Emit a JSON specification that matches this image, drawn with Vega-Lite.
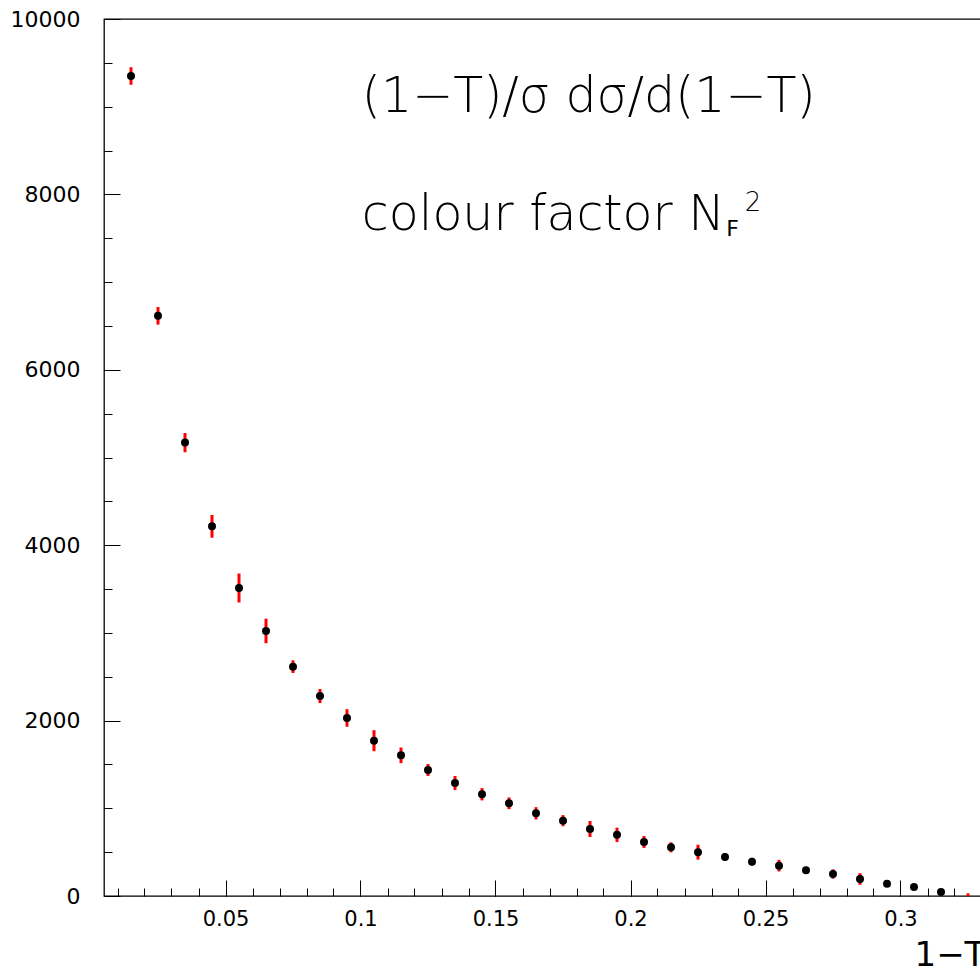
{
  "$schema": "https://vega.github.io/schema/vega-lite/v6.json",
  "width": 891,
  "height": 877,
  "autosize": {"type": "none"},
  "padding": {"left": 104, "top": 19, "right": 0, "bottom": 73},
  "background": "white",
  "config": {
    "view": {"stroke": "black", "strokeWidth": 1.3},
    "axis": {"grid": false, "domain": false, "tickColor": "black", "tickWidth": 1, "labelFont": "DejaVu Sans", "labelColor": "black", "labelFontSize": 21, "titleFont": "DejaVu Sans", "titleColor": "black", "titleFontWeight": "normal"},
    "text": {"font": "DejaVu Sans"}
  },
  "datasets": {
    "pts": [
      {"x": 0.015, "y": 9350, "err": 100},
      {"x": 0.025, "y": 6615, "err": 100},
      {"x": 0.035, "y": 5170, "err": 110},
      {"x": 0.045, "y": 4215, "err": 130},
      {"x": 0.055, "y": 3512, "err": 165},
      {"x": 0.065, "y": 3022, "err": 140},
      {"x": 0.075, "y": 2615, "err": 72},
      {"x": 0.085, "y": 2280, "err": 80},
      {"x": 0.095, "y": 2030, "err": 100},
      {"x": 0.105, "y": 1771, "err": 120},
      {"x": 0.115, "y": 1604, "err": 89},
      {"x": 0.125, "y": 1437, "err": 68},
      {"x": 0.135, "y": 1288, "err": 80},
      {"x": 0.145, "y": 1160, "err": 70},
      {"x": 0.155, "y": 1057, "err": 67},
      {"x": 0.165, "y": 943, "err": 70},
      {"x": 0.175, "y": 859, "err": 63},
      {"x": 0.185, "y": 764, "err": 91},
      {"x": 0.195, "y": 697, "err": 82},
      {"x": 0.205, "y": 616, "err": 68},
      {"x": 0.215, "y": 555, "err": 57},
      {"x": 0.225, "y": 500, "err": 85},
      {"x": 0.235, "y": 445, "err": 45},
      {"x": 0.245, "y": 391, "err": 45},
      {"x": 0.255, "y": 346, "err": 66},
      {"x": 0.265, "y": 293, "err": 35},
      {"x": 0.275, "y": 251, "err": 53},
      {"x": 0.285, "y": 194, "err": 66},
      {"x": 0.295, "y": 141, "err": 30},
      {"x": 0.305, "y": 103, "err": 25},
      {"x": 0.315, "y": 46, "err": 20},
      {"x": 0.325, "y": 0, "err": 30}
    ],
    "main": [
      {"x": 0.1005, "y": 8940, "text": "(1−T)/σ dσ/d(1−T)"},
      {"x": 0.1005, "y": 7594, "text": "colour factor N"}
    ],
    "sub": [{"x": 0.2355, "y": 7526, "text": "F"}],
    "sup": [{"x": 0.2423, "y": 7811, "text": "2"}]
  },
  "layer": [
    {
      "data": {"name": "pts"},
      "mark": {"type": "errorbar", "color": "#ff0000", "thickness": 3, "clip": true},
      "encoding": {
        "x": {"field": "x", "type": "quantitative", "scale": {"domain": [0.005, 0.335], "nice": false, "zero": false},
              "axis": {"orient": "bottom", "values": [0.01,0.02,0.03,0.04,0.05,0.06,0.07,0.08,0.09,0.1,0.11,0.12,0.13,0.14,0.15,0.16,0.17,0.18,0.19,0.2,0.21,0.22,0.23,0.24,0.25,0.26,0.27,0.28,0.29,0.3,0.31,0.32,0.33], "tickSize": -8, "labels": false, "title": null}},
        "y": {"field": "y", "type": "quantitative", "scale": {"domain": [0, 10000], "nice": false, "zero": false},
              "axis": {"orient": "left", "values": [500,1000,1500,2000,2500,3000,3500,4000,4500,5000,5500,6000,6500,7000,7500,8000,8500,9000,9500], "tickSize": -8, "labels": false, "title": null}},
        "yError": {"field": "err"}
      }
    },
    {
      "data": {"name": "pts"},
      "transform": [{"filter": "datum.y > 0"}],
      "mark": {"type": "circle", "color": "black", "size": 64, "opacity": 1},
      "encoding": {
        "x": {"field": "x", "type": "quantitative",
              "axis": {"orient": "bottom", "values": [0.05,0.1,0.15,0.2,0.25,0.3], "format": "~g", "tickSize": -16, "labelPadding": 28, "title": "1−T", "titleFontSize": 34, "titleAlign": "left", "titleBaseline": "alphabetic", "titleX": 810, "titleY": 69}},
        "y": {"field": "y", "type": "quantitative",
              "axis": {"orient": "left", "values": [0,2000,4000,6000,8000,10000], "format": "d", "tickSize": -16, "labelPadding": 40, "labelFontSize": 22, "title": null}}
      }
    },
    {
      "data": {"name": "main"},
      "mark": {"type": "text", "fontSize": 49, "fontWeight": 200, "align": "left", "baseline": "alphabetic", "color": "black"},
      "encoding": {
        "x": {"field": "x", "type": "quantitative", "axis": null},
        "y": {"field": "y", "type": "quantitative", "axis": null},
        "text": {"field": "text"}
      }
    },
    {
      "data": {"name": "sub"},
      "mark": {"type": "text", "fontSize": 22, "fontWeight": "normal", "align": "left", "baseline": "alphabetic", "color": "black"},
      "encoding": {
        "x": {"field": "x", "type": "quantitative", "axis": null},
        "y": {"field": "y", "type": "quantitative", "axis": null},
        "text": {"field": "text"}
      }
    },
    {
      "data": {"name": "sup"},
      "mark": {"type": "text", "fontSize": 26, "fontWeight": 200, "align": "left", "baseline": "alphabetic", "color": "black"},
      "encoding": {
        "x": {"field": "x", "type": "quantitative", "axis": null},
        "y": {"field": "y", "type": "quantitative", "axis": null},
        "text": {"field": "text"}
      }
    }
  ],
  "resolve": {"axis": {"x": "independent", "y": "independent"}}
}
